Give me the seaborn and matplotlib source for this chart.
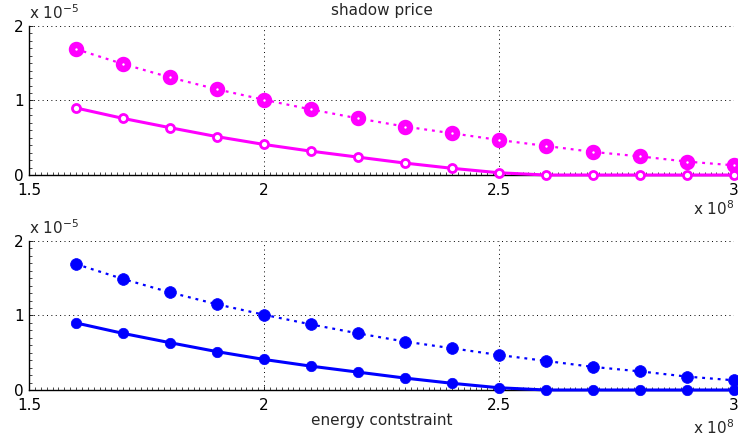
import matplotlib
matplotlib.use("Agg")
import matplotlib.pyplot as plt
from matplotlib.ticker import MultipleLocator, FixedLocator
import pandas as pd
import numpy as np
import seaborn as sns

# energy constraint (x 1e8)
energy = [1.6, 1.7, 1.8, 1.9, 2.0, 2.1, 2.2, 2.3, 2.4, 2.5, 2.6, 2.7, 2.8, 2.9, 3.0]
# shadow price (x 1e-5)
price_upper = [1.69, 1.49, 1.31, 1.15, 1.01, 0.88, 0.76, 0.65, 0.56, 0.47, 0.39, 0.31, 0.25, 0.18, 0.13]
price_lower = [0.90, 0.76, 0.635, 0.515, 0.41, 0.32, 0.24, 0.16, 0.09, 0.03, 0.0, 0.0, 0.0, 0.0, 0.0]

df = pd.DataFrame({"energy": energy, "upper": price_upper, "lower": price_lower})

sns.set_style("white")
plt.rcParams['font.family'] = ['DejaVu Sans']
plt.rcParams['font.size'] = 11

fig = plt.figure(figsize=(7.38, 4.36), dpi=100)
ax1 = fig.add_axes([0.0393, 0.5986, 0.9553, 0.3418])
ax2 = fig.add_axes([0.0393, 0.1055, 0.9553, 0.3418])

magenta = "#ff00ff"
blue = "#0000ff"
dots = (0, (1.3, 2.2))

# top: rings
sns.lineplot(data=df, x="energy", y="upper", ax=ax1, color=magenta, linewidth=1.6,
             linestyle=dots, marker="o", markersize=6.5, markerfacecolor="white",
             markeredgecolor=magenta, markeredgewidth=4.6, clip_on=False, zorder=3)
sns.lineplot(data=df, x="energy", y="lower", ax=ax1, color=magenta, linewidth=2.2,
             marker="o", markersize=5.8, markerfacecolor="white",
             markeredgecolor=magenta, markeredgewidth=2.0, clip_on=False, zorder=3)

# bottom: filled dots
sns.lineplot(data=df, x="energy", y="upper", ax=ax2, color=blue, linewidth=1.6,
             linestyle=dots, marker="o", markersize=8.5, markerfacecolor=blue,
             markeredgecolor=blue, markeredgewidth=0.5, clip_on=False, zorder=3)
sns.lineplot(data=df, x="energy", y="lower", ax=ax2, color=blue, linewidth=2.2,
             marker="o", markersize=7.5, markerfacecolor=blue,
             markeredgecolor=blue, markeredgewidth=0.5, clip_on=False, zorder=3)

for ax in (ax1, ax2):
    ax.set_xlim(1.5, 3.0)
    ax.set_ylim(0, 2)
    ax.xaxis.set_major_locator(FixedLocator([1.5, 2.0, 2.5, 3.0]))
    ax.set_xticklabels(["1.5", "2", "2.5", "3"])
    ax.yaxis.set_major_locator(FixedLocator([0, 1, 2]))
    ax.set_yticklabels(["0", "1", "2"])
    ax.xaxis.set_minor_locator(MultipleLocator(0.0125))
    ax.yaxis.set_minor_locator(MultipleLocator(0.1))
    ax.tick_params(which="both", direction="in", bottom=True, left=True,
                   top=False, right=False, colors="black", labelsize=11)
    ax.tick_params(axis="x", which="major", pad=6)
    ax.tick_params(axis="y", which="major", pad=4)
    ax.tick_params(which="major", length=3, width=0.6)
    ax.tick_params(which="minor", length=2, width=0.5)
    ax.grid(True, which="major", color="black", linestyle=(0, (1, 3.5)), linewidth=0.7)
    ax.set_axisbelow(True)
    for s in ("top", "right"):
        ax.spines[s].set_visible(False)
    for s in ("left", "bottom"):
        ax.spines[s].set_color("black")
        ax.spines[s].set_linewidth(1.0)
    ax.set_xlabel("")
    ax.set_ylabel("")
    ax.text(0.0, 1.03, r"x 10$^{-5}$", transform=ax.transAxes, fontsize=11,
            ha="left", va="bottom")

ax1.set_title("shadow price", fontsize=11, pad=8)
ax1.text(1.0, -0.165, r"x 10$^{8}$", transform=ax1.transAxes, fontsize=11,
         ha="right", va="top")
ax2.text(1.0, -0.19, r"x 10$^{8}$", transform=ax2.transAxes, fontsize=11,
         ha="right", va="top")
ax2.set_xlabel("energy contstraint", fontsize=11, labelpad=0)

fig.savefig("out.png", dpi=100)
